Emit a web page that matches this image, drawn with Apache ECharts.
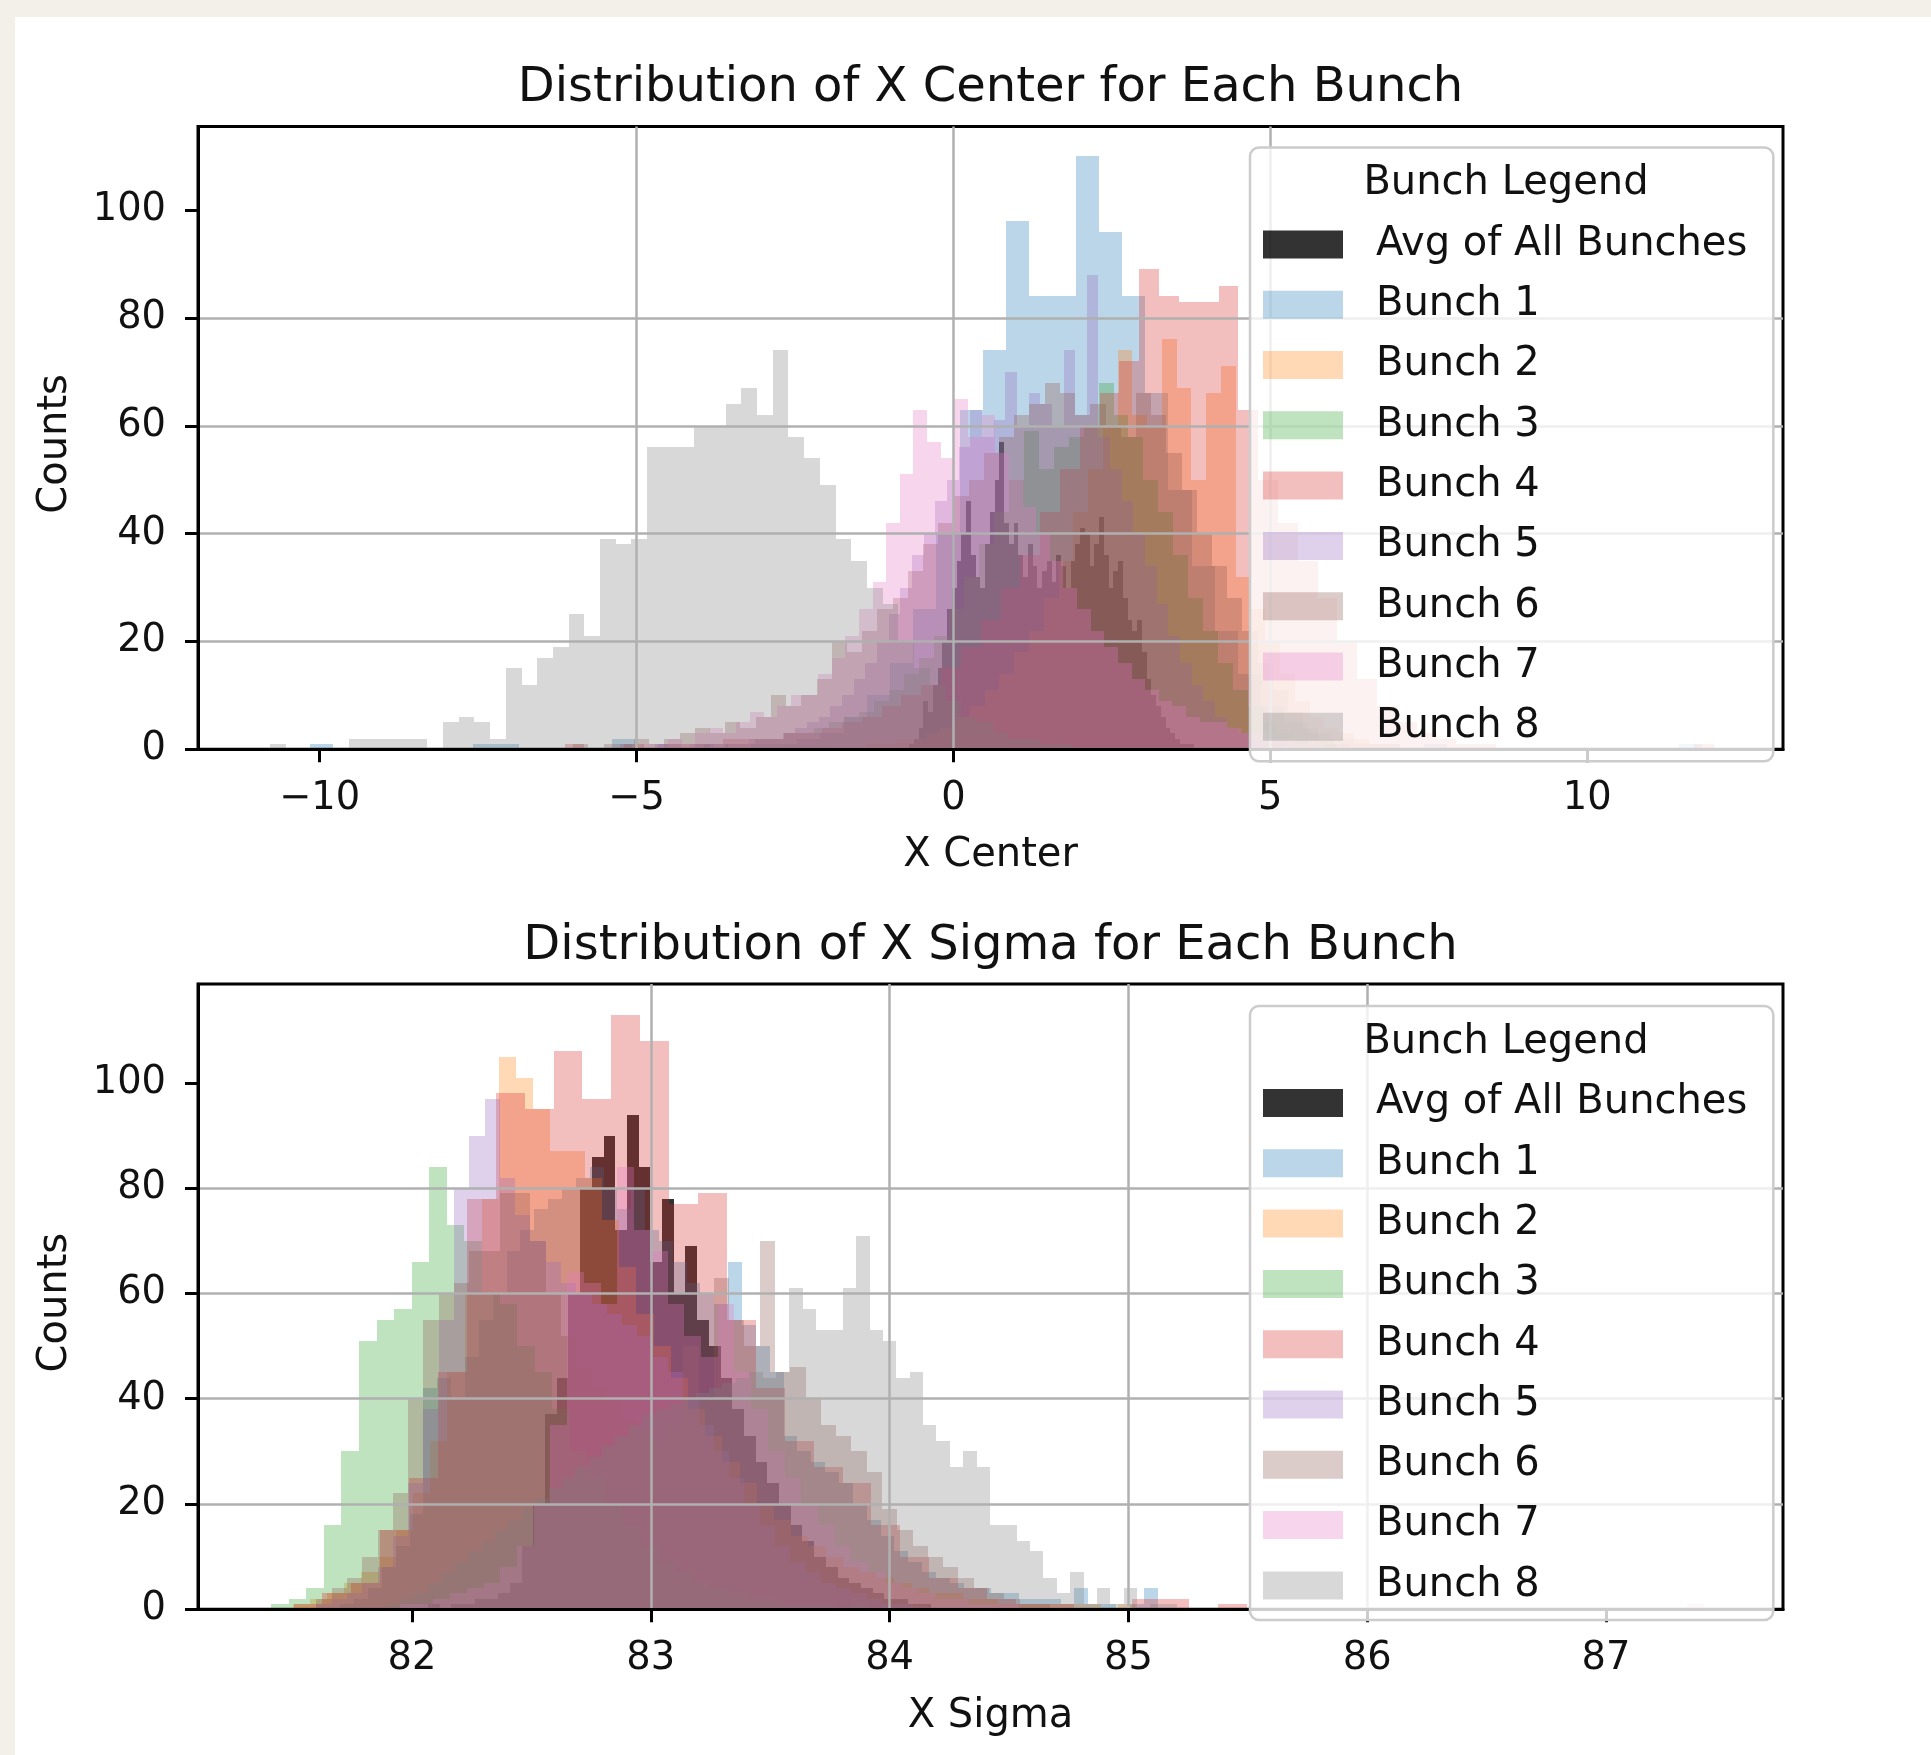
<!DOCTYPE html>
<html>
<head>
<meta charset="utf-8">
<script src="https://cdn.jsdelivr.net/npm/echarts@6/dist/echarts.min.js"></script>
<style>
html,body{margin:0;padding:0;background:#f3f0e9;}
#card{position:absolute;left:15px;top:17px;right:0;bottom:0;background:#ffffff;}
#chart{position:absolute;left:0;top:0;width:1931px;height:1755px;}
</style>
</head>
<body>
<div id="card"></div>
<div id="chart"></div>
<script>
// ---------------- names & colours ----------------
const bunchNames = ['Avg of All Bunches','Bunch 1','Bunch 2','Bunch 3','Bunch 4','Bunch 5','Bunch 6','Bunch 7','Bunch 8'];
const bunchColors = ['rgba(0,0,0,0.8)','rgba(31,119,180,0.3)','rgba(255,127,14,0.3)','rgba(44,160,44,0.3)',
  'rgba(214,39,40,0.3)','rgba(148,103,189,0.3)','rgba(140,86,75,0.3)','rgba(227,119,194,0.3)','rgba(127,127,127,0.3)'];

// ---------------- X Center histograms (bin start, bin width, counts) ----------------
const centerBinStart = [-0.70, -10.15, -1.37, -4.082, -6.136, -5.255, -6.0, -4.93, -10.78];
const centerBinWidth = [0.075, 0.366, 0.233, 0.236, 0.3127, 0.184, 0.24, 0.215, 0.2478];
const centerAvg = [1,2,4,9,7,12,15,20,26,30, 35,40,46,36,32,30,38,44,50,57, 42,38,42,36,32,38,34,30,33,35,
  31,36,34,30,35,38,41,40,34,38, 43,36,30,33,35,28,24,22,24,18, 13,10,8,6,4,3,2,1,1,1];
const centerB1 = [1,0,0,0,0,0,0,1,1,0, 0,0,0,2,0,1,0,1,0,1, 1,2,3,6,10,16,26,40,63,74,
  98,84,84,110,96,84,66,48,34,22, 14,8,5,3,2,1,1,0,1,0, 0,0,0,0,0,0,0,0,0,1];
const centerB2 = [1,1,2,2,3,4,6,8,11,14, 18,22,28,35,44,52,60,74,62,60, 76,67,50,66,71,32,26,20,14,9, 6,4,3,2,1,1];
const centerB3 = [1,0,1,1,2,2,3,3,4,5, 6,7,9,11,14,17,21,26,32,38, 44,50,59,52,56,58,60,68,62,58,
  50,44,36,28,22,16,11,8,5,3, 2,1,1];
const centerB4 = [1,0,0,1,0,1,1,1,2,2, 2,3,3,4,5,6,8,10,12,15, 19,24,30,36,44,52,60,66,72,89,
  84,83,83,86,63,50,42,35,28,20, 13,8,5,3,2,1,1,0,0,0, 0,0,0,0,0,0,0,1];
const centerB5 = [1,0,0,1,0,0,1,1,0,1, 1,2,2,2,3,4,5,6,8,10, 13,16,20,25,30,36,40,46,50,56,
  63,58,61,70,60,66,64,60,74,62, 88,58,52,46,40,34,27,21,16,12, 9,6,4,3,2,1,1];
const centerB6 = [1,0,1,1,2,1,2,3,4,3, 5,4,6,10,8,10,13,20,18,22, 26,28,33,38,42,47,50,55,58,62,
  64,68,66,62,64,60,58,66,62,55, 48,40,34,28,22,16,11,7,4,2, 1];
const centerB7 = [1,1,2,1,3,4,3,5,7,6, 8,10,10,14,17,21,26,31,42,51, 63,57,54,65,58,62,55,50,45,40,
  35,30,26,22,19,16,13,11,9,8, 6,5,5,4,3,3,2,2,1,1, 0,1];
const centerB8 = [1,0,0,0,0,2,2,2,2,2, 0,5,6,5,2,15,12,17,19,25, 21,39,38,39,56,56,56,60,60,64,
  67,62,74,58,54,49,39,35,30,27, 20,15,12,9,6,5,3,2,2,1, 1];

// ---------------- X Sigma histograms ----------------
const sigmaBinStart = [81.871, 81.7, 81.5, 81.41, 81.504, 81.6, 81.6, 81.95, 81.9];
const sigmaBinWidth = [0.049, 0.058, 0.072, 0.0736, 0.121, 0.064, 0.064, 0.07, 0.056];
const sigmaAvg = [0,0,0,0,1,0,1,1,2,2, 3,5,12,20,37,44,60,80,86,90, 72,94,84,66,78,60,69,55,50,44,
  38,33,28,24,20,16,13,10,8,6, 5,4,3,2,2,1,1];
const sigmaB1 = [1,2,4,8,12,18,42,44,40,48, 55,60,68,72,76,78,80,82,84,80, 76,80,72,70,66,62,60,58,66,54,
  50,45,33,30,28,26,24,20,17,14, 11,9,7,6,5,4,4,3,3,2, 2,2,1,4,1,1,0,1,4,0];
const sigmaB2 = [1,2,3,5,7,10,15,22,32,45, 60,78,105,101,95,87,87,82,74,65, 56,50,44,38,33,28,24,20,17,14,
  12,10,8,7,6,5,4,3,3,2, 2,1,1,1,1,1,1,0,1];
const sigmaB3 = [1,2,4,16,30,51,55,57,66,84, 73,70,60,58,50,45,38,30,25,20, 16,12,9,7,5,4,3,2,2,1, 1,1,0,1];
const sigmaB4 = [1,3,5,15,25,45,78,98,95,106, 97,113,108,77,79,55,42,32,27,24, 16,10,6,4,2,1,1,0,0,2, 2,0,1];
const sigmaB5 = [1,2,3,5,8,14,24,38,55,80, 90,97,82,75,70,66,62,60,58,56, 54,52,48,45,40,35,30,25,20,16,
  12,9,7,5,4,3,2,1,1];
const sigmaB6 = [2,4,6,10,15,22,40,55,60,62, 68,68,79,79,70,60,52,46,42,40, 36,34,32,35,50,40,63,55,50,70,
  45,46,40,35,33,30,26,19,15,12, 10,8,6,4,3,2,1,1];
const sigmaB7 = [1,1,2,3,4,5,8,12,20,35, 64,62,58,84,72,68,58,52,48,58, 45,38,30,25,20,16,12,9,7,5,
  4,3,2,2,1,1,1,0,0,0, 0,0,0,0,0,0,0,0,0,0, 0,0,0,0,0,0,0,0,0,0, 0,0,0,0,0,0,0,0,0,0, 0,0,0,0,0,0,0,1];
const sigmaB8 = [1,2,3,5,7,9,11,13,15,17, 19,21,23,25,27,29,31,33,35,37, 38,39,40,41,42,43,44,45,44,45,
  61,57,53,53,61,71,53,51,44,45, 35,32,27,30,27,16,16,13,11,6, 3,7,1,4,1,4,0,1,1];

// ---------------- axes ticks ----------------
const centerTicks = [-10, -5, 0, 5, 10];
const sigmaTicks = [82, 83, 84, 85, 86, 87];
const countTicks = [0, 20, 40, 60, 80, 100];

// ---------------- build ----------------
const centerCounts = [centerAvg, centerB1, centerB2, centerB3, centerB4, centerB5, centerB6, centerB7, centerB8];
const sigmaCounts = [sigmaAvg, sigmaB1, sigmaB2, sigmaB3, sigmaB4, sigmaB5, sigmaB6, sigmaB7, sigmaB8];

function histData(start, width, counts) {
  return counts.map((c, i) => [start + i * width, start + (i + 1) * width, c]);
}
function renderBar(params, api) {
  const c = api.value(2);
  if (!c) return null;
  const a = api.coord([api.value(0), c]);
  const b = api.coord([api.value(1), 0]);
  const x0 = Math.round(a[0]), x1 = Math.round(b[0]);
  const y0 = Math.round(a[1]), y1 = Math.round(b[1]);
  return { type: 'rect', shape: { x: x0, y: y0, width: x1 - x0, height: y1 - y0 },
    style: { fill: api.visual('color') } };
}
const FONT = 'DejaVu Sans';
const series = [];
[[centerCounts, centerBinStart, centerBinWidth, 0], [sigmaCounts, sigmaBinStart, sigmaBinWidth, 1]].forEach(([cnts, st, wd, gi]) => {
  cnts.forEach((counts, i) => {
    series.push({
      type: 'custom', name: bunchNames[i], xAxisIndex: gi, yAxisIndex: gi,
      data: histData(st[i], wd[i], counts), encode: { x: [0, 1], y: 2 },
      renderItem: renderBar, itemStyle: { color: bunchColors[i] }, clip: true, silent: true, z: 2
    });
  });
});

const minus = v => (v < 0 ? '\u2212' + Math.abs(v) : String(v));
function xAxis(gi, min, max, ticks, name, nameGap) {
  return {
    gridIndex: gi, type: 'value', min: min, max: max, z: 3,
    axisLine: { show: true, onZero: false, lineStyle: { color: '#000', width: 3 } },
    axisTick: { show: true, customValues: ticks, length: 13, lineStyle: { color: '#000', width: 3 } },
    axisLabel: { customValues: ticks, formatter: minus, fontFamily: FONT, fontSize: 38.4, color: '#111',
      margin: 49.5, verticalAlign: 'middle' },
    splitLine: { show: true, showMinLine: false, showMaxLine: false, lineStyle: { color: '#b0b0b0', width: 2.5 } },
    name: name, nameLocation: 'middle', nameGap: nameGap,
    nameTextStyle: { fontFamily: FONT, fontSize: 40, color: '#111', verticalAlign: 'middle' }
  };
}
function yAxis(gi, max) {
  return {
    gridIndex: gi, type: 'value', min: 0, max: max, z: 3,
    axisLine: { show: true, onZero: false, lineStyle: { color: '#000', width: 3 } },
    axisTick: { show: true, customValues: countTicks, length: 13, lineStyle: { color: '#000', width: 3 } },
    axisLabel: { customValues: countTicks, fontFamily: FONT, fontSize: 38.4, color: '#111', margin: 32 },
    splitLine: { show: true, showMinLine: false, showMaxLine: false, lineStyle: { color: '#b0b0b0', width: 2.5 } },
    name: 'Counts', nameLocation: 'middle', nameGap: 142,
    nameTextStyle: { fontFamily: FONT, fontSize: 40, color: '#111', verticalAlign: 'middle', padding: [0, 12, 0, 0] }
  };
}
const ICON = 'path://M0,0H80V28H0Z M108,14L108,14.01';
function legend(top) {
  return {
    data: bunchNames, orient: 'vertical', left: 1250, top: top,
    padding: [77, 26, 14.5, 13], itemWidth: 108, itemHeight: 28, itemGap: 20.3, icon: ICON,
    backgroundColor: 'rgba(255,255,255,0.8)', borderColor: '#cccccc', borderWidth: 2.5, borderRadius: 9,
    textStyle: { fontFamily: FONT, fontSize: 40, color: '#111' },
    itemStyle: { borderWidth: 0 }, selectedMode: false, z: 10
  };
}
function text(x, y, str, size) {
  return { type: 'text', x: x, y: y, z: 100,
    style: { text: str, font: size + 'px "' + FONT + '"', fill: '#111',
      align: 'center', verticalAlign: 'middle', textAlign: 'center', textVerticalAlign: 'middle' } };
}

const option = {
  animation: false,
  backgroundColor: 'transparent',
  grid: [
    { left: 198, top: 126.5, width: 1585, height: 622.8, show: true, borderColor: '#000', borderWidth: 3 },
    { left: 198, top: 984, width: 1585, height: 625.2, show: true, borderColor: '#000', borderWidth: 3 }
  ],
  xAxis: [xAxis(0, -11.92, 13.09, centerTicks, 'X Center', 106.5), xAxis(1, 81.104, 87.741, sigmaTicks, 'X Sigma', 107.5)],
  yAxis: [yAxis(0, 115.5), yAxis(1, 118.8)],
  legend: [legend(147.4), legend(1006)],
  graphic: { elements: [
    text(990.5, 89, 'Distribution of X Center for Each Bunch', 48),
    text(990.5, 947, 'Distribution of X Sigma for Each Bunch', 48),
    text(1506, 184, 'Bunch Legend', 40),
    text(1506, 1042.6, 'Bunch Legend', 40)
  ] },
  series: series
};
const chart = echarts.init(document.getElementById('chart'), null, { renderer: 'canvas' });
chart.setOption(option);
</script>
</body>
</html>
